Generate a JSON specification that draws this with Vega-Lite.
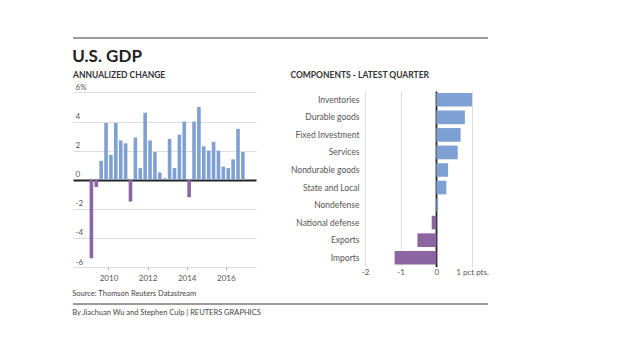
{
  "$schema": "https://vega.github.io/schema/vega-lite/v6.json",
  "background": "white",
  "padding": {"left": 72, "top": 37, "right": 0, "bottom": 0},
  "config": {"font": "Lato", "view": {"stroke": null}, "axis": {"labelOverlap": false, "labelFlush": false}},
  "title": {"text": "By Jiachuan Wu and Stephen Culp | REUTERS GRAPHICS", "orient": "bottom", "anchor": "start", "fontSize": 7.5, "fontWeight": "normal", "color": "#444", "offset": 4},
  "spacing": 5,
  "vconcat": [
    {
      "width": 415, "height": 1,
      "data": {"values": [{}]},
      "mark": {"type": "rule", "color": "#7a7a7a", "strokeWidth": 1.5},
      "encoding": {"x": {"value": 0}, "x2": {"value": 415}, "y": {"value": 0}},
      "title": {"text": "U.S. GDP", "orient": "bottom", "anchor": "start", "fontSize": 17, "fontWeight": "bold", "color": "#222", "offset": 10}
    },
    {
      "hconcat": [
        {
          "width": 183, "height": 176,
          "title": {"text": "ANNUALIZED CHANGE", "anchor": "start", "fontSize": 8.5, "fontWeight": "bold", "color": "#333", "offset": 4},
          "data": {"values": [
            {"t": 2009.125, "v": -5.4}, {"t": 2009.375, "v": -0.5}, {"t": 2009.625, "v": 1.3}, {"t": 2009.875, "v": 3.9},
            {"t": 2010.125, "v": 1.7}, {"t": 2010.375, "v": 3.9}, {"t": 2010.625, "v": 2.7}, {"t": 2010.875, "v": 2.5},
            {"t": 2011.125, "v": -1.5}, {"t": 2011.375, "v": 2.9}, {"t": 2011.625, "v": 0.8}, {"t": 2011.875, "v": 4.6},
            {"t": 2012.125, "v": 2.7}, {"t": 2012.375, "v": 1.9}, {"t": 2012.625, "v": 0.5}, {"t": 2012.875, "v": 0.1},
            {"t": 2013.125, "v": 2.8}, {"t": 2013.375, "v": 0.8}, {"t": 2013.625, "v": 3.1}, {"t": 2013.875, "v": 4.0},
            {"t": 2014.125, "v": -1.2}, {"t": 2014.375, "v": 4.0}, {"t": 2014.625, "v": 5.0}, {"t": 2014.875, "v": 2.3},
            {"t": 2015.125, "v": 2.0}, {"t": 2015.375, "v": 2.6}, {"t": 2015.625, "v": 2.0}, {"t": 2015.875, "v": 0.9},
            {"t": 2016.125, "v": 0.8}, {"t": 2016.375, "v": 1.4}, {"t": 2016.625, "v": 3.5}, {"t": 2016.875, "v": 1.9}
          ]},
          "mark": {"type": "bar", "size": 3.6},
          "encoding": {
            "x": {"field": "t", "type": "quantitative",
              "scale": {"domain": [2008.44, 2017.29], "nice": false, "zero": false},
              "axis": {"values": [2010, 2012, 2014, 2016], "format": "d", "grid": false, "domain": false, "tickSize": 3, "tickColor": "#bbb", "labelFontSize": 8, "labelColor": "#555", "labelPadding": 4, "minExtent": 17, "title": null}},
            "y": {"field": "v", "type": "quantitative",
              "scale": {"domain": [-6, 6.1], "nice": false},
              "axis": {"values": [-6, -4, -2, 0, 2, 4, 6], "grid": true,
                "gridColor": {"condition": {"test": "datum.value === 0", "value": "#222"}, "value": "#ddd"},
                "gridWidth": {"condition": {"test": "datum.value === 0", "value": 1.8}, "value": 1},
                "domain": false, "ticks": false, "tickSize": 0, "minExtent": 0, "maxExtent": 0, "labelAlign": "left", "labelBaseline": "bottom", "labelPadding": -2, "labelOffset": -1, "labelOverlap": false, "labelFontSize": 8, "labelColor": "#555", "labelExpr": "datum.value == 6 ? '6%' : replace(datum.label, '−', '-')", "title": null}},
            "color": {"condition": {"test": "datum.v < 0", "value": "#8c66a2"}, "value": "#7fa0d2"}
          }
        },
        {
          "width": 107, "height": 175.5,
          "title": {"text": "COMPONENTS - LATEST QUARTER", "anchor": "start", "fontSize": 8.5, "fontWeight": "bold", "color": "#333", "offset": 11.5},
          "data": {"values": [
            {"component": "Inventories", "v": 1.0},
            {"component": "Durable goods", "v": 0.8},
            {"component": "Fixed Investment", "v": 0.68},
            {"component": "Services", "v": 0.6},
            {"component": "Nondurable goods", "v": 0.33},
            {"component": "State and Local", "v": 0.28},
            {"component": "Nondefense", "v": 0.05},
            {"component": "National defense", "v": -0.13},
            {"component": "Exports", "v": -0.53},
            {"component": "Imports", "v": -1.17}
          ]},
          "mark": {"type": "bar"},
          "encoding": {
            "y": {"field": "component", "type": "nominal", "sort": null,
              "scale": {"paddingInner": 0.22, "paddingOuter": 0.11},
              "axis": {"title": null, "ticks": false, "domain": false, "labelPadding": 6, "labelFontSize": 8.5, "labelColor": "#555"}},
            "x": {"field": "v", "type": "quantitative",
              "scale": {"domain": [-2, 1], "nice": false},
              "axis": {"values": [-2, -1, 0, 1], "grid": true,
                "gridColor": {"condition": {"test": "datum.value === 0", "value": "#222"}, "value": "#ddd"},
                "gridWidth": {"condition": {"test": "datum.value === 0", "value": 1.8}, "value": 1},
                "ticks": false, "domain": false, "labelPadding": 2, "labelOverlap": false, "labelFontSize": 8, "labelColor": "#555", "labelExpr": "datum.value == 1 ? '1 pct pts.' : replace(datum.label, '−', '-')", "title": null}},
            "color": {"condition": {"test": "datum.v < 0", "value": "#8c66a2"}, "value": "#7fa0d2"}
          }
        }
      ],
      "spacing": 34
    },
    {
      "width": 415, "height": 1,
      "data": {"values": [{}]},
      "mark": {"type": "rule", "color": "#7a7a7a", "strokeWidth": 1.5},
      "encoding": {"x": {"value": 0}, "x2": {"value": 415}, "y": {"value": 0}},
      "title": {"text": "Source: Thomson Reuters Datastream", "orient": "top", "anchor": "start", "fontSize": 7.5, "fontWeight": "normal", "color": "#444", "offset": 6}
    }
  ]
}
